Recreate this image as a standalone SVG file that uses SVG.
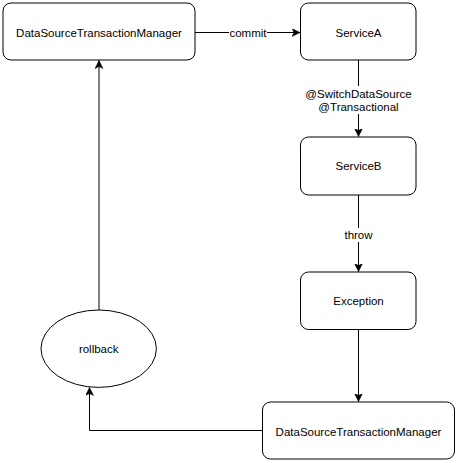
<svg xmlns="http://www.w3.org/2000/svg" width="458" height="463" viewBox="0 0 458 463">
<style>
.n{fill:#fff;stroke:#000;stroke-width:1}
.t{font-family:"Liberation Sans",Arial,sans-serif;font-size:11.5px;fill:#000;text-anchor:middle}
.e{fill:none;stroke:#000;stroke-width:1}
.lb{fill:#fff;stroke:none}
</style>
<defs>
<marker id="ah" markerWidth="10" markerHeight="10" refX="8" refY="4" orient="auto" markerUnits="userSpaceOnUse">
<path d="M0,0 L8,4 L0,8 L2,4 Z" fill="#000" stroke="#000" stroke-width="0.5"/>
</marker>
</defs>
<rect width="458" height="463" fill="#fff"/>
<g id="connectors">
<path class="e" d="M195,32.5 H300" marker-end="url(#ah)"/>
<rect class="lb" x="229" y="25" width="38" height="14"/>
<text class="t" x="248" y="36.5">commit</text>
<path class="e" d="M358.5,60 V136.5" marker-end="url(#ah)"/>
<rect class="lb" x="305" y="86" width="107" height="28"/>
<text class="t" x="358.5" y="97.5">@SwitchDataSource</text>
<text class="t" x="358.5" y="111">@Transactional</text>
<path class="e" d="M358.5,195 V271.5" marker-end="url(#ah)"/>
<rect class="lb" x="343" y="228" width="31" height="14"/>
<text class="t" x="358.5" y="239">throw</text>
<path class="e" d="M358.5,329.5 V401.5" marker-end="url(#ah)"/>
<path class="e" d="M262,430.5 H89.5 V387.5" marker-end="url(#ah)"/>
<path class="e" d="M99,310 V60.5" marker-end="url(#ah)"/>
</g>
<g id="dstm-top">
<rect class="n" x="3" y="3" width="192" height="57" rx="8"/>
<text class="t" x="99" y="36.5">DataSourceTransactionManager</text>
</g>
<g id="serviceA">
<rect class="n" x="300.5" y="3" width="115.5" height="57" rx="8"/>
<text class="t" x="358.5" y="36.5">ServiceA</text>
</g>
<g id="serviceB">
<rect class="n" x="300.5" y="137" width="115.5" height="58" rx="8"/>
<text class="t" x="358.5" y="170">ServiceB</text>
</g>
<g id="exception">
<rect class="n" x="300.5" y="272" width="115.5" height="57.5" rx="8"/>
<text class="t" x="358.5" y="305">Exception</text>
</g>
<g id="dstm-bottom">
<rect class="n" x="262.5" y="402" width="192" height="57" rx="8"/>
<text class="t" x="358.5" y="436">DataSourceTransactionManager</text>
</g>
<g id="rollback">
<ellipse class="n" cx="98.7" cy="348.7" rx="57.7" ry="38.7"/>
<text class="t" x="98.7" y="353">rollback</text>
</g>
</svg>
